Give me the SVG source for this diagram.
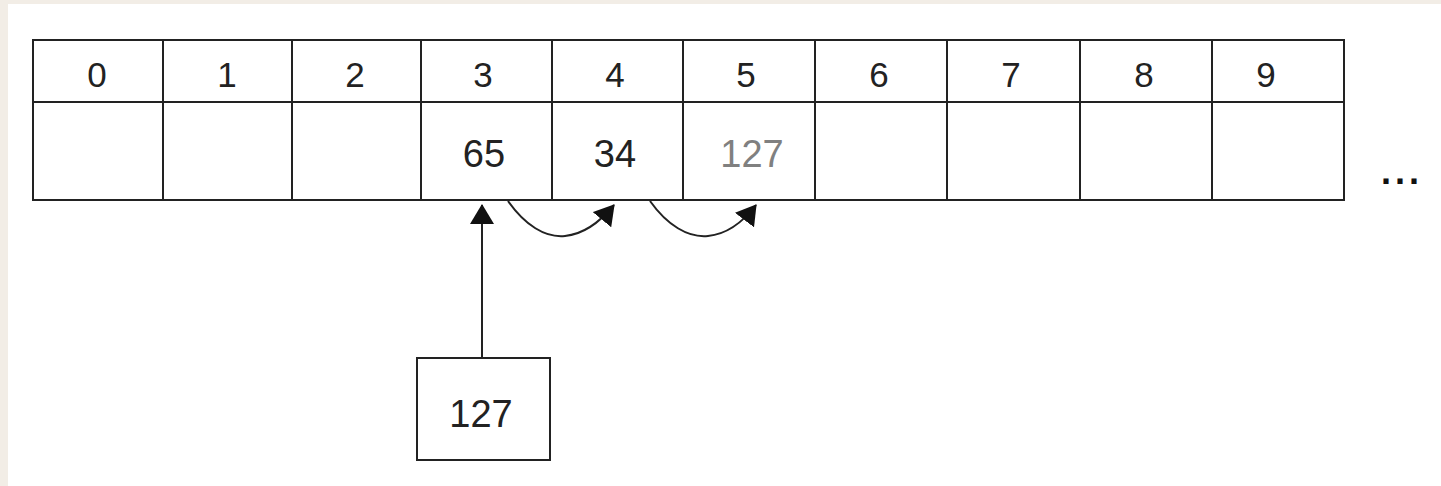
<svg xmlns="http://www.w3.org/2000/svg" width="1441" height="486" viewBox="0 0 1441 486">
<style>
.ln{fill:none;stroke:#222;stroke-width:2}
.hd{font-family:"Liberation Sans",Arial,sans-serif;font-size:35px;fill:#222;text-anchor:middle}
.vl{font-family:"Liberation Sans",Arial,sans-serif;font-size:38px;fill:#222;text-anchor:middle}
.gr{fill:#808080}
</style>
<defs>
<marker id="ah" viewBox="0 0 20 24" refX="19" refY="12" markerWidth="20" markerHeight="24" markerUnits="userSpaceOnUse" orient="auto">
<path d="M0,0 L20,12 L0,24 Z" fill="#111"/>
</marker>
</defs>
<rect x="0" y="0" width="1441" height="486" fill="#ffffff"/>
<rect x="0" y="0" width="1441" height="4" fill="#f2ede6"/>
<rect x="0" y="0" width="8" height="486" fill="#f2ede6"/>
<g id="array">
<rect class="ln" x="33" y="40" width="1311" height="160"/>
<line class="ln" x1="33" y1="102" x2="1344" y2="102"/>
<path class="ln" d="M163,40V200M292,40V200M421,40V200M552,40V200M683,40V200M815,40V200M947,40V200M1080,40V200M1212,40V200"/>
<text class="hd" x="97" y="87">0</text>
<text class="hd" x="227" y="87">1</text>
<text class="hd" x="355" y="87">2</text>
<text class="hd" x="483" y="87">3</text>
<text class="hd" x="615" y="87">4</text>
<text class="hd" x="746" y="87">5</text>
<text class="hd" x="879" y="87">6</text>
<text class="hd" x="1011" y="87">7</text>
<text class="hd" x="1144" y="87">8</text>
<text class="hd" x="1266" y="87">9</text>
<text class="vl" x="484" y="167">65</text>
<text class="vl" x="615" y="167">34</text>
<text class="vl gr" x="752" y="167">127</text>
</g>
<g id="more">
<text x="1402" y="184" font-family="Liberation Sans,Arial,sans-serif" font-size="36" font-weight="bold" fill="#111" text-anchor="middle" letter-spacing="4">...</text>
</g>
<g id="newval">
<rect class="ln" x="417" y="358" width="133" height="102"/>
<text class="vl" x="481" y="427">127</text>
</g>
<g id="connectors">
<path class="ln" d="M482,358 V205" marker-end="url(#ah)"/>
<path class="ln" d="M508,201 C525,225 545,238 565,236 C585,234 600,222 614,205" marker-end="url(#ah)"/>
<path class="ln" d="M650,201 C667,225 688,238 708,236 C728,234 743,222 756,205" marker-end="url(#ah)"/>
</g>
</svg>
